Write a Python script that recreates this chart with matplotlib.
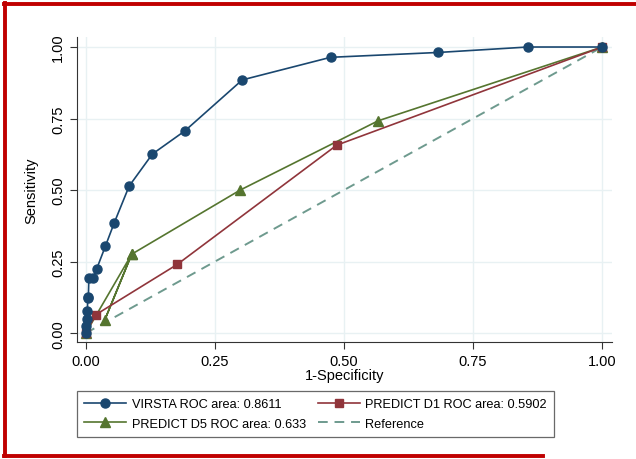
import matplotlib.pyplot as plt
from matplotlib.lines import Line2D

plt.rcParams['font.family'] = ['Liberation Sans', 'DejaVu Sans']

# ROC points
virsta_x = [0.0, 0.0, 0.002, 0.003, 0.004, 0.005, 0.006, 0.014, 0.021, 0.038, 0.055,
            0.084, 0.129, 0.192, 0.303, 0.474, 0.683, 0.856, 1.0]
virsta_y = [0.0, 0.026, 0.049, 0.078, 0.122, 0.128, 0.193, 0.193, 0.224, 0.304, 0.385,
            0.514, 0.626, 0.707, 0.885, 0.964, 0.981, 1.0, 1.0]

d1_x = [0.0, 0.019, 0.177, 0.486, 1.0]
d1_y = [0.0, 0.064, 0.240, 0.657, 1.0]

d5_x = [0.0, 0.089, 0.037, 0.089, 0.299, 0.566, 1.0]
d5_y = [0.0, 0.276, 0.047, 0.276, 0.500, 0.742, 1.0]

ref_x = [0.0, 1.0]
ref_y = [0.0, 1.0]

labels = ['VIRSTA ROC area: 0.8611', 'PREDICT D1 ROC area: 0.5902',
          'PREDICT D5 ROC area: 0.633', 'Reference']
ticks = [0.0, 0.25, 0.5, 0.75, 1.0]
tick_labels = ['0.00', '0.25', '0.50', '0.75', '1.00']

navy = '#1a476f'
maroon = '#90353b'
green = '#55752f'
teal = '#6e9a8e'

fig = plt.figure(figsize=(6.36, 4.60), dpi=100)
ax = fig.add_axes([77 / 636, 1 - 343 / 460, 535 / 636, 305 / 460])

ax.plot(ref_x, ref_y, color=teal, lw=1.4, ls=(0, (5, 3.5)), label=labels[3], zorder=2)
ax.plot(d5_x, d5_y, color=green, lw=1.2, marker='^', ms=6.5, label=labels[2], zorder=3)
ax.plot(d1_x, d1_y, color=maroon, lw=1.2, marker='s', ms=6, label=labels[1], zorder=3)
ax.plot(virsta_x, virsta_y, color=navy, lw=1.2, marker='o', ms=6.5, label=labels[0], zorder=4)

ax.set_xlim(-0.017, 1.019)
ax.set_ylim(-0.031, 1.035)
ax.set_xticks(ticks)
ax.set_xticklabels(tick_labels)
ax.set_yticks(ticks)
ax.set_yticklabels(tick_labels, rotation=90, va='center')
ax.tick_params(labelsize=10.5, length=5, width=0.8, colors='#333333', labelcolor='black')
ax.grid(True, color='#e8f1f3', lw=1)
ax.set_axisbelow(True)
for s in ['top', 'right']:
    ax.spines[s].set_visible(False)
for s in ['left', 'bottom']:
    ax.spines[s].set_color('#333333')
    ax.spines[s].set_linewidth(0.8)
ax.set_xlabel('1-Specificity', fontsize=10.5, labelpad=0)
ax.set_ylabel('Sensitivity', fontsize=10.5, labelpad=9)

h, l = ax.get_legend_handles_labels()
order = [3, 1, 2, 0]  # VIRSTA, D5 | D1, Reference (column-wise fill)
leg = fig.legend([h[i] for i in order], [l[i] for i in order], ncol=2,
                 bbox_to_anchor=(77 / 636, 1 - 392 / 460),
                 loc='upper left', fontsize=9.2, frameon=True,
                 fancybox=False, edgecolor='#444444', handlelength=3.3,
                 handletextpad=0.45, borderaxespad=0, borderpad=0.55,
                 labelspacing=0.6, columnspacing=0.9)
leg.get_frame().set_linewidth(0.9)

# red frame around the picture
red = '#c00000'
fig.add_artist(Line2D([5 / 636, 5 / 636], [1 - 4 / 460, 1 - 457 / 460], color=red, lw=2.8,
                      transform=fig.transFigure))
fig.add_artist(Line2D([4 / 636, 1.0], [1 - 5 / 460, 1 - 5 / 460], color=red, lw=2.8,
                      transform=fig.transFigure))
fig.add_artist(Line2D([4 / 636, 543 / 636], [1 - 457 / 460, 1 - 457 / 460], color=red, lw=2.8,
                      transform=fig.transFigure))

fig.savefig('out.png', dpi=100)
